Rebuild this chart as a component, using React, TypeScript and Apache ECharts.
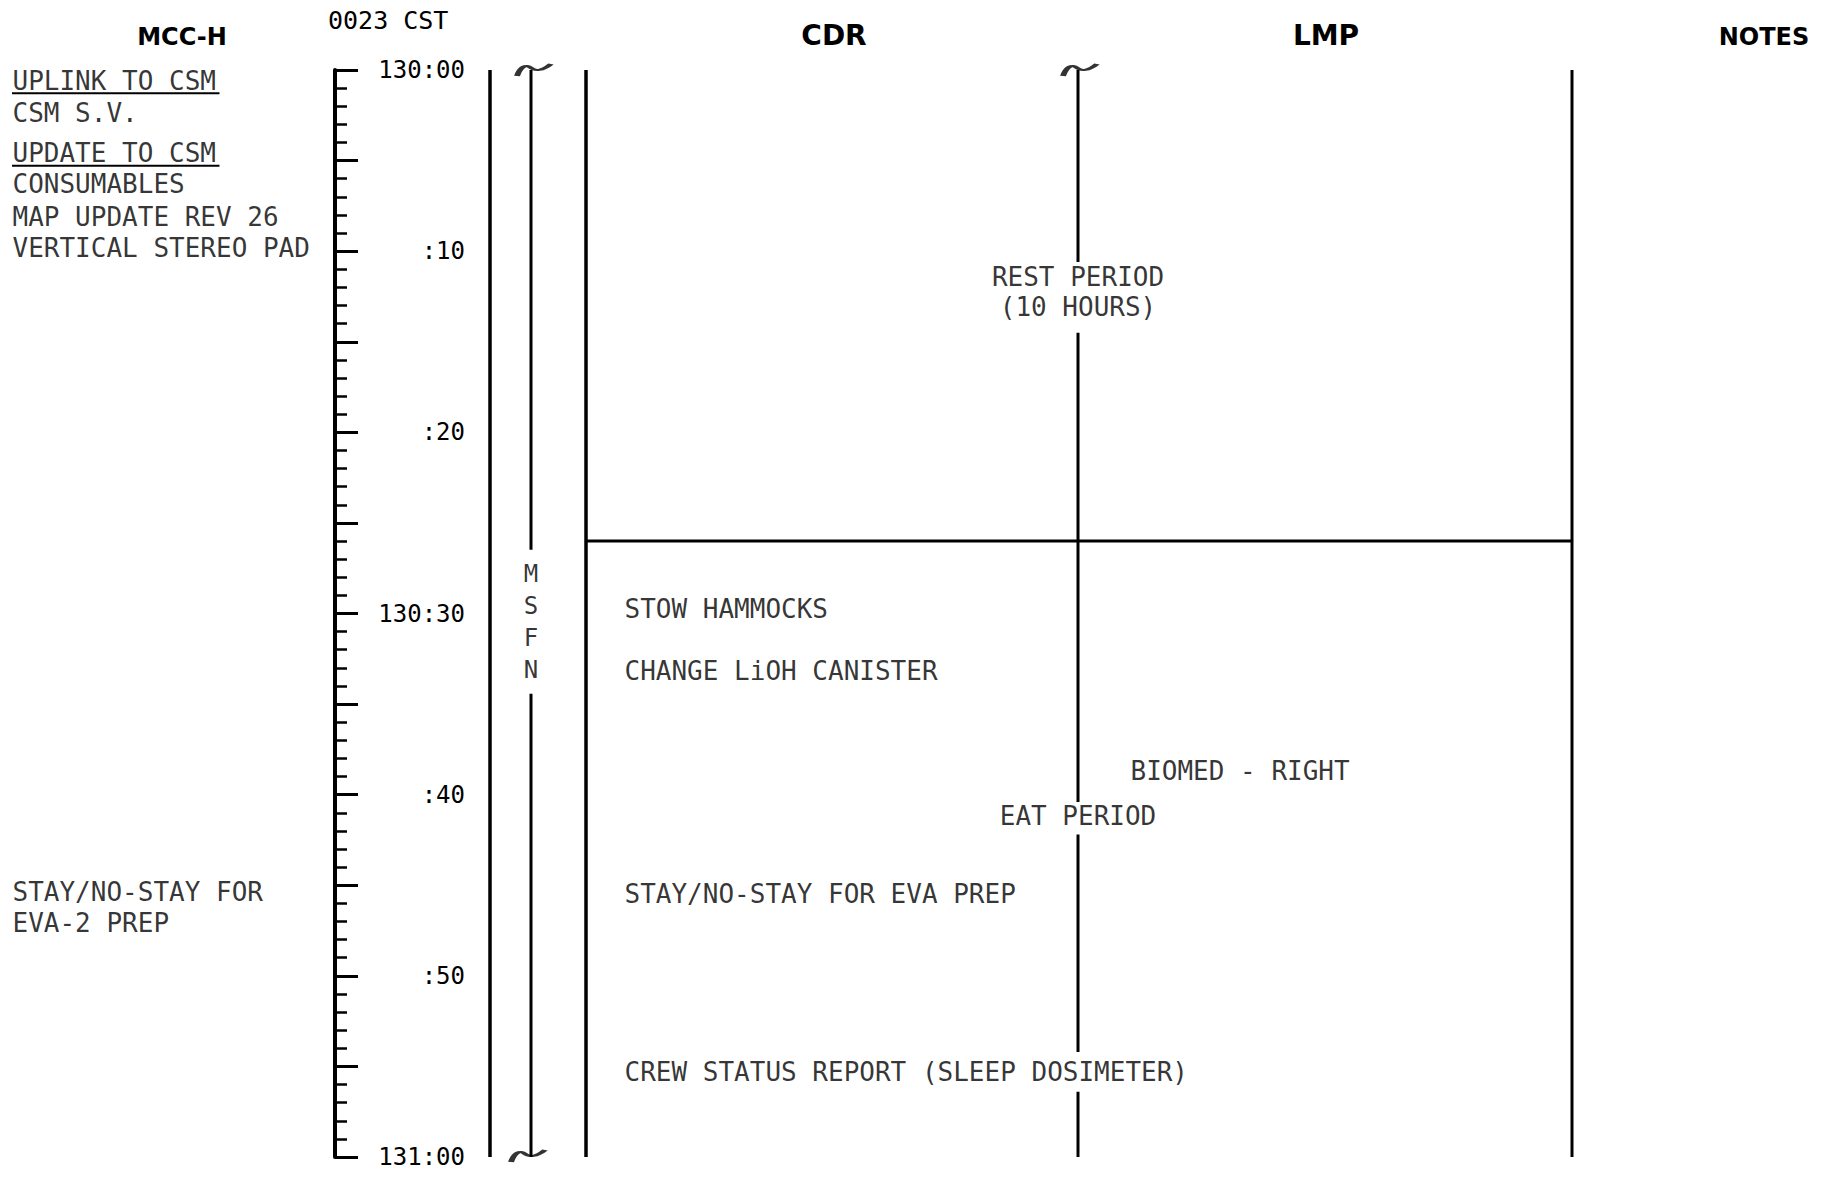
import React, { useEffect, useRef } from 'react';
import * as echarts from 'echarts';

// ---------------- data ----------------
// time is expressed in minutes after 130:00 GET
const TICK_LABELS = ['130:00', ':10', ':20', '130:30', ':40', ':50', '131:00'];
const CST_LABEL = '0023 CST';
const HEADERS = ['MCC-H', 'CDR', 'LMP', 'NOTES'];

const MCC_TEXT = [
  'UPLINK TO CSM',
  'CSM S.V.',
  'UPDATE TO CSM',
  'CONSUMABLES',
  'MAP UPDATE REV 26',
  'VERTICAL STEREO PAD',
  'STAY/NO-STAY FOR',
  'EVA-2 PREP',
];
const MCC_MIN = [0.6, 2.4, 4.6, 6.3, 8.1, 9.8, 45.4, 47.1];
const MCC_UNDERLINED = [true, false, true, false, false, false, false, false];

const CDR_TEXT = [
  'STOW HAMMOCKS',
  'CHANGE LiOH CANISTER',
  'STAY/NO-STAY FOR EVA PREP',
  'CREW STATUS REPORT (SLEEP DOSIMETER)',
];
const CDR_MIN = [29.75, 33.2, 45.5, 55.3];

const CREW_TEXT = ['REST PERIOD', '(10 HOURS)', 'EAT PERIOD'];
const CREW_MIN = [11.4, 13.1, 41.2];

const LMP_TEXT = ['BIOMED - RIGHT'];
const LMP_MIN = [38.7];

const REST_END_MIN = 26;
const MSFN_LABEL = 'MSFN';
const MSFN_SPAN = [0, 60];
const MSFN_LABEL_MIN = 30.46;
const DIVIDER_GAPS = [
  [10.6, 14.5],
  [40.4, 42.2],
  [54.2, 56.4],
];

// ---------------- layout ----------------
const W = 1823;
const H = 1181;
const PLOT_TOP = 70;
const PLOT_BOTTOM = 24;
const X_TIME_AXIS = 335;
const X_TIME_LABEL_RIGHT = 465;
const X_RULE_OUTER = 490;
const X_MSFN = 531;
const X_CDR_LEFT = 586;
const X_DIVIDER = 1078;
const X_NOTES_LEFT = 1572;
const X_MCC_TEXT = 12;
const X_CDR_TEXT = 624;
const X_LMP_TEXT = 1130;
const MONO = '"DejaVu Sans Mono", "Liberation Mono", monospace';
const HEAD = '"DejaVu Sans", "Liberation Sans", sans-serif';
const TEXT_SIZE = 26;
const CHAR_W = TEXT_SIZE * 0.602;
const PX_PER_MIN = (H - PLOT_TOP - PLOT_BOTTOM) / 60;

const TILDE = 'path://M0,10 C3,2 8,0 12,3 C16,6 22,6 30,0';

function vRule(x: number, span: number[], gaps: number[][]) {
  const data: any[] = [];
  let start = span[0];
  gaps.forEach(([a, b]) => {
    data.push([x, start], [x, a], [x, '-']);
    start = b;
  });
  data.push([x, start], [x, span[1]]);
  return data;
}

function lineSeries(id: string, data: any[], width: number) {
  return {
    id,
    type: 'line',
    xAxisIndex: 0,
    yAxisIndex: 0,
    data,
    showSymbol: false,
    symbol: 'none',
    connectNulls: false,
    silent: true,
    lineStyle: { color: '#000', width, cap: 'butt' },
    z: 3,
  };
}

function textSeries(id: string, names: string[], mins: number[], x: (i: number) => number, position: string) {
  return {
    id,
    type: 'scatter',
    xAxisIndex: 0,
    yAxisIndex: 0,
    symbolSize: 1,
    silent: true,
    itemStyle: { color: 'rgba(0,0,0,0)' },
    data: names.map((n, i) => ({ name: n, value: [x(i), mins[i]] })),
    label: {
      show: true,
      position,
      distance: 0,
      formatter: (p: any) => p.name,
      fontFamily: MONO,
      fontSize: TEXT_SIZE,
      color: '#000',
    },
    z: 5,
  };
}

export default function App() {
  const ref = useRef<HTMLDivElement>(null);

  useEffect(() => {
    document.body.style.margin = '0';
    const chart = echarts.init(ref.current!, null, { renderer: 'svg' });

    const msfnHalf = ((MSFN_LABEL.length * 32) / 2 + 8) / PX_PER_MIN;

    const underlineSeries = MCC_TEXT.map((t, i) =>
      MCC_UNDERLINED[i]
        ? lineSeries(
            'ul' + i,
            [
              [X_MCC_TEXT, MCC_MIN[i] + 0.68],
              [X_MCC_TEXT + t.length * CHAR_W + 4, MCC_MIN[i] + 0.68],
            ],
            2
          )
        : null
    ).filter(Boolean);

    const headerPos = [
      [182, 37, 24],
      [834, 35, 28],
      [1326, 35, 28],
      [1764, 37, 24],
    ];

    const option: any = {
      animation: false,
      backgroundColor: '#fff',
      grid: [
        { left: 0, right: 0, top: PLOT_TOP, bottom: PLOT_BOTTOM, containLabel: false, outerBoundsMode: 'none' },
        {
          left: X_TIME_AXIS,
          right: W - X_TIME_LABEL_RIGHT,
          top: PLOT_TOP,
          bottom: PLOT_BOTTOM,
          containLabel: false,
          outerBoundsMode: 'none',
        },
      ],
      xAxis: [
        { gridIndex: 0, type: 'value', min: 0, max: W, show: false },
        { gridIndex: 1, type: 'value', min: 0, max: 1, show: false },
      ],
      yAxis: [
        { gridIndex: 0, type: 'value', min: 0, max: 60, inverse: true, show: false },
        {
          gridIndex: 1,
          type: 'value',
          min: 0,
          max: 60,
          interval: 5,
          inverse: true,
          position: 'left',
          axisLine: { show: true, onZero: false, lineStyle: { color: '#000', width: 4 } },
          axisTick: { show: true, inside: true, length: 23, lineStyle: { color: '#000', width: 3 } },
          minorTick: { show: true, splitNumber: 5, length: 12, lineStyle: { color: '#000', width: 2.5 } },
          axisLabel: { show: false },
          splitLine: { show: false },
          minorSplitLine: { show: false },
        },
        {
          gridIndex: 1,
          type: 'value',
          min: 0,
          max: 60,
          interval: 10,
          inverse: true,
          position: 'right',
          axisLine: { show: false, onZero: false },
          axisTick: { show: false },
          splitLine: { show: false },
          axisLabel: {
            show: true,
            inside: true,
            margin: 0,
            showMinLabel: true,
            showMaxLabel: true,
            formatter: (v: number) => TICK_LABELS[Math.round(v / 10)],
            fontFamily: MONO,
            fontSize: 24,
            color: '#000',
          },
        },
      ],
      graphic: [
        ...HEADERS.map((h, i) => ({
          type: 'text',
          x: headerPos[i][0],
          y: headerPos[i][1],
          silent: true,
          style: {
            text: h,
            fill: '#000',
            fontFamily: HEAD,
            fontWeight: 'bold',
            fontSize: headerPos[i][2],
            font: `bold ${headerPos[i][2]}px ${HEAD}`,
            align: 'center',
            verticalAlign: 'middle',
            textAlign: 'center',
            textVerticalAlign: 'middle',
          },
        })),
        {
          type: 'text',
          x: 328,
          y: 20,
          silent: true,
          style: {
            text: CST_LABEL,
            fill: '#000',
            fontFamily: MONO,
            fontSize: 25,
            font: `25px ${MONO}`,
            align: 'left',
            verticalAlign: 'middle',
            textAlign: 'left',
            textVerticalAlign: 'middle',
          },
        },
      ],
      series: [
        lineSeries('ruleOuter', vRule(X_RULE_OUTER, [0, 60], []), 3.5),
        lineSeries('ruleCdr', vRule(X_CDR_LEFT, [0, 60], []), 3.5),
        lineSeries('ruleDivider', vRule(X_DIVIDER, [0, 60], DIVIDER_GAPS), 3),
        lineSeries('ruleNotes', vRule(X_NOTES_LEFT, [0, 60], []), 3),
        lineSeries(
          'ruleMsfn',
          vRule(X_MSFN, MSFN_SPAN, [[MSFN_LABEL_MIN - msfnHalf, MSFN_LABEL_MIN + msfnHalf]]),
          3
        ),
        lineSeries(
          'restEnd',
          [
            [X_CDR_LEFT, REST_END_MIN],
            [X_NOTES_LEFT, REST_END_MIN],
          ],
          3
        ),
        ...underlineSeries,
        {
          id: 'tildes',
          type: 'scatter',
          xAxisIndex: 0,
          yAxisIndex: 0,
          silent: true,
          symbol: TILDE,
          symbolSize: [34, 12],
          symbolKeepAspect: false,
          itemStyle: { color: 'none', borderColor: '#000', borderWidth: 3.5 },
          data: [
            { value: [X_MSFN, MSFN_SPAN[0]], symbolOffset: [3, 0] },
            { value: [X_DIVIDER, 0], symbolOffset: [2, 0] },
            { value: [X_MSFN, MSFN_SPAN[1]], symbolOffset: [-3, -1] },
          ],
          z: 4,
        },
        textSeries('mcc', MCC_TEXT, MCC_MIN, () => X_MCC_TEXT, 'right'),
        textSeries('cdr', CDR_TEXT, CDR_MIN, () => X_CDR_TEXT, 'right'),
        textSeries('crew', CREW_TEXT, CREW_MIN, () => X_DIVIDER, 'inside'),
        textSeries('lmp', LMP_TEXT, LMP_MIN, () => X_LMP_TEXT, 'right'),
        {
          id: 'msfn',
          type: 'scatter',
          xAxisIndex: 0,
          yAxisIndex: 0,
          symbolSize: 1,
          silent: true,
          itemStyle: { color: 'rgba(0,0,0,0)' },
          data: [{ name: MSFN_LABEL, value: [X_MSFN, MSFN_LABEL_MIN] }],
          label: {
            show: true,
            position: 'inside',
            formatter: (p: any) => String(p.name).split('').join('\n'),
            fontFamily: MONO,
            fontSize: 24,
            lineHeight: 32,
            color: '#000',
          },
          z: 5,
        },
      ],
    };

    chart.setOption(option);
    return () => chart.dispose();
  }, []);

  return <div ref={ref} style={{ width: W, height: H, background: '#fff' }} />;
}
